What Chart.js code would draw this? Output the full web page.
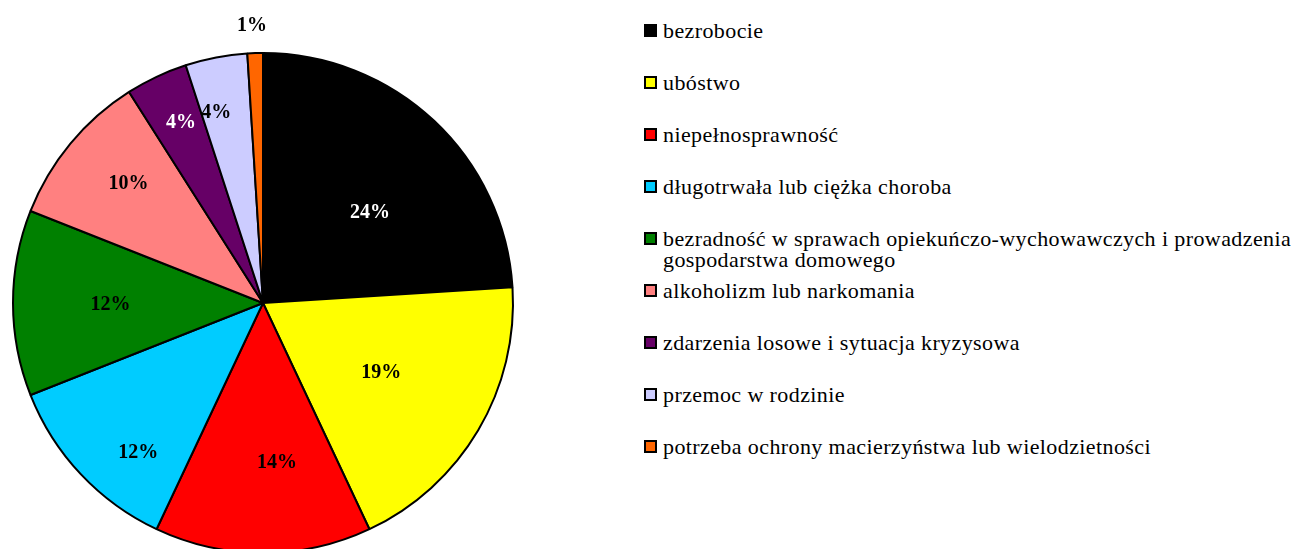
<!DOCTYPE html>
<html>
<head>
<meta charset="utf-8">
<script src="https://cdn.jsdelivr.net/npm/chart.js@4"></script>
<style>
	html, body { margin: 0; padding: 0; background: #fff; overflow: hidden; }
	body { width: 1298px; height: 549px; position: relative; }
	#pieBox { position: absolute; left: 0; top: 0; width: 527px; height: 560px; }
	#legend { position: absolute; left: 0; top: 0; }
	.legendItem {
		position: absolute; left: 644px; width: 662px;
		font-family: "Liberation Serif", serif; font-size: 22px; letter-spacing: 0.4px;
		line-height: 21px; color: #000;
	}
	.legendItem .box {
		position: absolute; left: 0; top: 4px; width: 9px; height: 9px;
		border: 2px solid #000;
	}
	.legendItem .txt { display: block; margin-left: 19px; }
</style>
</head>
<body>
<div id="pieBox"><canvas id="pieChart"></canvas></div>
<div id="legend"></div>
<script>
const categories = [
	'bezrobocie',
	'ubóstwo',
	'niepełnosprawność',
	'długotrwała lub ciężka choroba',
	'bezradność w sprawach opiekuńczo-wychowawczych i prowadzenia gospodarstwa domowego',
	'alkoholizm lub narkomania',
	'zdarzenia losowe i sytuacja kryzysowa',
	'przemoc w rodzinie',
	'potrzeba ochrony macierzyństwa lub wielodzietności'
];
const shares = [24, 19, 14, 12, 12, 10, 4, 4, 1];
const shareLabels = ['24%', '19%', '14%', '12%', '12%', '10%', '4%', '4%', '1%'];
const sliceColors = ['#000000', '#FFFF00', '#FF0000', '#00CCFF', '#008000', '#FF8080', '#660066', '#CCCCFF', '#FF6600'];
const labelColors = ['#fff', '#000', '#000', '#000', '#000', '#000', '#fff', '#000', '#000'];

// where each percent label sits: [angle shift in degrees, radius fraction]
const labelPlace = [[6.7, 0.56], [0, 0.55], [-5, 0.64], [-7, 0.78], [-0.7, 0.61],
	[2, 0.72], [0.7, 0.79], [-3, 0.785], [-0.5, 1.108]];

const pieLabels = {
	id: 'pieLabels',
	afterDatasetsDraw: function(chart) {
		const ctx = chart.ctx;
		const arcs = chart.getDatasetMeta(0).data;
		ctx.save();
		ctx.font = 'bold 20px "Liberation Serif", serif';
		ctx.textAlign = 'center';
		ctx.textBaseline = 'middle';
		arcs.forEach(function(arc, i) {
			const p = arc.getProps(['x', 'y', 'startAngle', 'endAngle', 'outerRadius'], true);
			const a = (p.startAngle + p.endAngle) / 2 + labelPlace[i][0] * Math.PI / 180;
			const r = p.outerRadius * labelPlace[i][1];
			ctx.fillStyle = labelColors[i];
			ctx.fillText(shareLabels[i], p.x + Math.cos(a) * r, p.y + Math.sin(a) * r);
		});
		ctx.restore();
	}
};

const pieChart = new Chart(document.getElementById('pieChart').getContext('2d'), {
	type: 'pie',
	data: {
		labels: categories,
		datasets: [{
			data: shares,
			backgroundColor: sliceColors,
			borderColor: '#000',
			borderWidth: 2
		}]
	},
	options: {
		responsive: true,
		maintainAspectRatio: false,
		animation: false,
		layout: { padding: { left: 12, right: 13, top: 52, bottom: 6 } },
		plugins: {
			legend: { display: false },
			tooltip: { enabled: false }
		}
	},
	plugins: [pieLabels]
});

// legend on the right, one row every 52px
const legendBox = document.getElementById('legend');
categories.forEach(function(name, i) {
	const item = document.createElement('div');
	item.className = 'legendItem';
	item.style.top = (20 + i * 52) + 'px';
	const box = document.createElement('span');
	box.className = 'box';
	box.style.background = sliceColors[i];
	const txt = document.createElement('span');
	txt.className = 'txt';
	txt.textContent = name;
	item.appendChild(box);
	item.appendChild(txt);
	legendBox.appendChild(item);
});
</script>
</body>
</html>
